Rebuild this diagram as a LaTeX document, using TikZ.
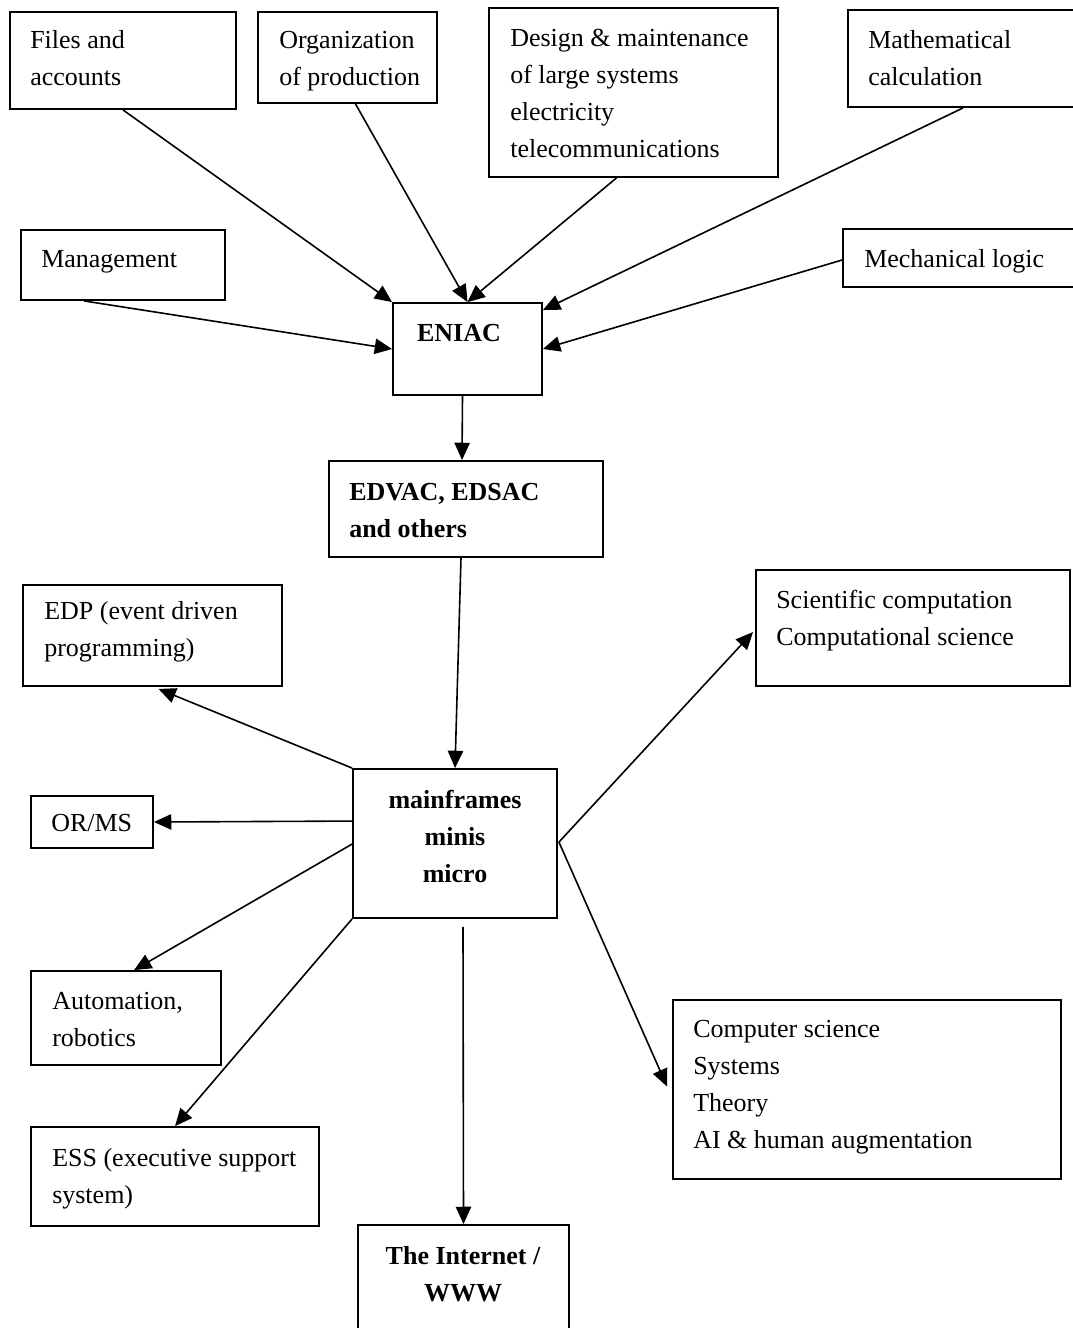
\documentclass[tikz,border=0pt]{standalone}
\usepackage{fontspec}
\setmainfont{Liberation Serif}
\usetikzlibrary{arrows.meta,calc,fit}
\tikzset{
  box/.style={draw, line width=1.4pt, inner sep=0pt, fill=white},
  txt/.style={inner sep=0pt, align=left, font=\fontsize{19.5}{27.75}\selectfont},
  btxt/.style={inner sep=0pt, align=center, font=\fontsize{19.5}{27.75}\selectfont\bfseries},
  bltxt/.style={inner sep=0pt, align=left, font=\fontsize{19.5}{27.75}\selectfont\bfseries},
  arr/.style={line width=1.2pt, -{Triangle[length=13pt,width=11.5pt]}}
}
\begin{document}
\begin{tikzpicture}[x=0.75pt,y=-0.75pt]
\useasboundingbox[fill=white] (0,0) rectangle (1073,1328);
% boxes
\node[box, fit={(10,12) (236,109)}] (files) {};
\node[box, fit={(258,12) (437,103)}] (org) {};
\node[box, fit={(489,8) (778,177)}] (design) {};
\node[box, fit={(848,10) (1078,107)}] (math) {};
\node[box, fit={(21,230) (225,300)}] (mgmt) {};
\node[box, fit={(843,229) (1078,287)}] (mech) {};
\node[box, fit={(393,303) (542,395)}] (eniac) {};
\node[box, fit={(329,461) (603,557)}] (edvac) {};
\node[box, fit={(23,585) (282,686)}] (edp) {};
\node[box, fit={(756,570) (1070,686)}] (sci) {};
\node[box, fit={(31,796) (153,848)}] (orms) {};
\node[box, fit={(353,769) (557,918)}] (main) {};
\node[box, fit={(31,971) (221,1065)}] (auto) {};
\node[box, fit={(673,1000) (1061,1179)}] (cs) {};
\node[box, fit={(31,1127) (319,1226)}] (ess) {};
\node[box, fit={(358,1225) (569,1345)}] (inet) {};
% texts
\node[txt, anchor=north west] (files-t) at (30,22) {\strut Files and\\\strut accounts};
\node[txt, anchor=north west] (org-t) at (279,22) {\strut Organization\\\strut of production};
\node[txt, anchor=north west] (design-t) at (510,20) {\strut Design \& maintenance\\\strut of large systems\\\strut electricity\\\strut telecommunications};
\node[txt, anchor=north west] (math-t) at (868,22) {\strut Mathematical\\\strut calculation};
\node[txt, anchor=north west] (mgmt-t) at (41,241) {\strut Management};
\node[txt, anchor=north west] (mech-t) at (864,241) {\strut Mechanical logic};
\node[btxt, anchor=north] (eniac-t) at (459,315) {\strut ENIAC};
\node[bltxt, anchor=north west] (edvac-t) at (349,474) {\strut EDVAC, EDSAC\\\strut and others};
\node[txt, anchor=north west] (edp-t) at (44,593) {\strut EDP (event driven\\\strut programming)};
\node[txt, anchor=north west] (sci-t) at (776,582) {\strut Scientific computation\\\strut Computational science};
\node[txt, anchor=north west] (orms-t) at (51,805) {\strut OR/MS};
\node[btxt, anchor=north] (main-t) at (455,782) {\strut mainframes\\\strut minis\\\strut micro};
\node[txt, anchor=north west] (auto-t) at (52,983) {\strut Automation,\\\strut robotics};
\node[txt, anchor=north west] (cs-t) at (693,1011) {\strut Computer science\\\strut Systems\\\strut Theory\\\strut AI \& human augmentation};
\node[txt, anchor=north west] (ess-t) at (52,1140) {\strut ESS (executive support\\\strut system)};
\node[btxt, anchor=north] (inet-t) at (463,1238) {\strut The Internet /\\\strut WWW};
% connectors into ENIAC
\draw[arr] (files.south) -- (eniac.north west);
\draw[arr] ($(org.south)+(8,0)$) -- (eniac.north);
\draw[arr] ($(design.south)+(-17,0)$) -- (eniac.north);
\draw[arr] (math.south) -- ($(eniac.north east)+(0,8)$);
\draw[arr] ($(mgmt.south west)+(64,0)$) -- (eniac.west);
\draw[arr] ($(mech.west)+(0,2)$) -- (eniac.east);
% chain
\draw[arr] ($(eniac.south)+(-5,0)$) -- ($(edvac.north)+(-4,0)$);
\draw[arr] ($(edvac.south)+(-5,0)$) -- (main.north);
% out of mainframes
\draw[arr] (main.north west) -- ($(edp.south)+(6,2)$);
\draw[arr] ($(main.north west)+(0,53)$) -- (orms.east);
\draw[arr] ($(main.north west)+(0,76)$) -- ($(auto.north west)+(104,0)$);
\draw[arr] (main.south west) -- ($(ess.north west)+(145,0)$);
\draw[arr] ($(main.south)+(8,8)$) -- (inet.north);
\draw[arr] ($(main.north east)+(1,74)$) -- ($(sci.west)+(-2,4)$);
\draw[arr] ($(main.north east)+(1,74)$) -- ($(cs.west)+(-5,-3)$);
\end{tikzpicture}
\end{document}
